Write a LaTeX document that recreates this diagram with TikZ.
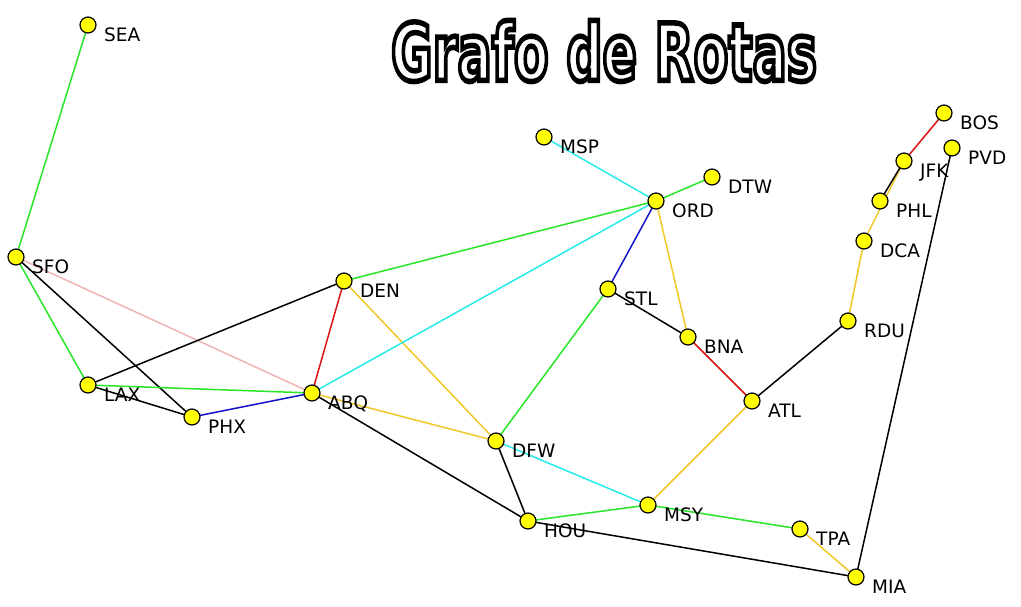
\documentclass[tikz,border=0pt]{standalone}
\usepackage{fontspec}
\setmainfont{DejaVu Sans}
\newfontfamily\ttlfont{DejaVu Sans}[BoldFeatures={FakeBold=7}]
\usepackage{graphicx}
\usetikzlibrary{backgrounds}

\definecolor{rtgreen}{RGB}{40,230,40}
\definecolor{rtcyan}{RGB}{40,235,235}
\definecolor{rtpink}{RGB}{240,180,180}
\definecolor{rtred}{RGB}{220,20,20}
\definecolor{rtblue}{RGB}{20,20,200}
\definecolor{rtgold}{RGB}{240,200,40}
\definecolor{aptyellow}{RGB}{255,255,0}

% white letters, black stroke from the fake bold
\newcommand{\ttltext}{\resizebox{426pt}{60pt}{\fontsize{75}{80}\selectfont\ttlfont\bfseries\color{white}\special{pdf:literal direct 0 0 0 RG}Grafo de Rotas}}

\tikzset{
  apt/.style={circle, draw=black, line width=1.2pt, fill=aptyellow, minimum size=16pt, inner sep=0pt},
  lbl/.style={anchor=base west, inner sep=0pt, font=\fontsize{18.5}{22}\selectfont},
  route/.style={line width=1.5pt},
}

\begin{document}
\begin{tikzpicture}[x=1pt,y=1pt,yscale=-1,xscale=1]
\useasboundingbox (0,0) rectangle (1021,606);

% Title
\node[inner sep=0pt] (ttl) at (604,51) {\ttltext};

% Airports
\node[apt] (SEA) at (88,25) {};
\node[apt] (SFO) at (16,257) {};
\node[apt] (LAX) at (88,385) {};
\node[apt] (PHX) at (192,417) {};
\node[apt] (ABQ) at (312,393) {};
\node[apt] (DEN) at (344,281) {};
\node[apt] (MSP) at (544,137) {};
\node[apt] (DTW) at (712,177) {};
\node[apt] (ORD) at (656,201) {};
\node[apt] (STL) at (608,289) {};
\node[apt] (BNA) at (688,337) {};
\node[apt] (DFW) at (496,441) {};
\node[apt] (HOU) at (528,521) {};
\node[apt] (MSY) at (648,505) {};
\node[apt] (ATL) at (752,401) {};
\node[apt] (TPA) at (800,529) {};
\node[apt] (MIA) at (856,577) {};
\node[apt] (RDU) at (848,321) {};
\node[apt] (DCA) at (864,241) {};
\node[apt] (PHL) at (880,201) {};
\node[apt] (JFK) at (904,161) {};
\node[apt] (BOS) at (944,113) {};
\node[apt] (PVD) at (952,148) {};

% Text Node
\node[lbl] (SEA-l) at ([shift={(16,16.5)}]SEA) {SEA};
\node[lbl] (SFO-l) at ([shift={(16,16.5)}]SFO) {SFO};
\node[lbl] (LAX-l) at ([shift={(16,16.5)}]LAX) {LAX};
\node[lbl] (PHX-l) at ([shift={(16,16.5)}]PHX) {PHX};
\node[lbl] (ABQ-l) at ([shift={(16,16.5)}]ABQ) {ABQ};
\node[lbl] (DEN-l) at ([shift={(16,16.5)}]DEN) {DEN};
\node[lbl] (MSP-l) at ([shift={(16,16.5)}]MSP) {MSP};
\node[lbl] (DTW-l) at ([shift={(16,16.5)}]DTW) {DTW};
\node[lbl] (ORD-l) at ([shift={(16,16.5)}]ORD) {ORD};
\node[lbl] (STL-l) at ([shift={(16,16.5)}]STL) {STL};
\node[lbl] (BNA-l) at ([shift={(16,16.5)}]BNA) {BNA};
\node[lbl] (DFW-l) at ([shift={(16,16.5)}]DFW) {DFW};
\node[lbl] (HOU-l) at ([shift={(16,16.5)}]HOU) {HOU};
\node[lbl] (MSY-l) at ([shift={(16,16.5)}]MSY) {MSY};
\node[lbl] (ATL-l) at ([shift={(16,16.5)}]ATL) {ATL};
\node[lbl] (TPA-l) at ([shift={(16,16.5)}]TPA) {TPA};
\node[lbl] (MIA-l) at ([shift={(16,16.5)}]MIA) {MIA};
\node[lbl] (RDU-l) at ([shift={(16,16.5)}]RDU) {RDU};
\node[lbl] (DCA-l) at ([shift={(16,16.5)}]DCA) {DCA};
\node[lbl] (PHL-l) at ([shift={(16,16.5)}]PHL) {PHL};
\node[lbl] (JFK-l) at ([shift={(16,16.5)}]JFK) {JFK};
\node[lbl] (BOS-l) at ([shift={(16,16.5)}]BOS) {BOS};
\node[lbl] (PVD-l) at ([shift={(16,16.5)}]PVD) {PVD};

% Routes
\begin{pgfonlayer}{background}
\fill[white] (0,0) rectangle (1021,606);
\draw[route, rtgreen] (SEA.center) -- (SFO.center);
\draw[route, rtgreen] (SFO.center) -- (LAX.center);
\draw[route] (SFO.center) -- (PHX.center);
\draw[route, rtpink] (SFO.center) -- (ABQ.center);
\draw[route] (LAX.center) -- (DEN.center);
\draw[route] (LAX.center) -- (PHX.center);
\draw[route, rtgreen] (LAX.center) -- (ABQ.center);
\draw[route, rtblue] (PHX.center) -- (ABQ.center);
\draw[route, rtred] (DEN.center) -- (ABQ.center);
\draw[route, rtgreen] (DEN.center) -- (ORD.center);
\draw[route, rtgold] (DEN.center) -- (DFW.center);
\draw[route, rtcyan] (ABQ.center) -- (ORD.center);
\draw[route, rtgold] (ABQ.center) -- (DFW.center);
\draw[route] (ABQ.center) -- (HOU.center);
\draw[route, rtcyan] (MSP.center) -- (ORD.center);
\draw[route, rtgreen] (ORD.center) -- (DTW.center);
\draw[route, rtblue] (ORD.center) -- (STL.center);
\draw[route, rtgold] (ORD.center) -- (BNA.center);
\draw[route] (STL.center) -- (BNA.center);
\draw[route, rtgreen] (STL.center) -- (DFW.center);
\draw[route, rtred] (BNA.center) -- (ATL.center);
\draw[route] (DFW.center) -- (HOU.center);
\draw[route, rtcyan] (DFW.center) -- (MSY.center);
\draw[route, rtgreen] (HOU.center) -- (MSY.center);
\draw[route] (HOU.center) -- (MIA.center);
\draw[route, rtgreen] (MSY.center) -- (TPA.center);
\draw[route, rtgold] (MSY.center) -- (ATL.center);
\draw[route] (ATL.center) -- (RDU.center);
\draw[route, rtgold] (TPA.center) -- (MIA.center);
\draw[route] (MIA.center) -- (PVD.center);
\draw[route, rtgold] (RDU.center) -- (DCA.center);
\draw[route, rtgold] (DCA.center) -- (JFK.center);
\draw[route] (PHL.center) -- (JFK.center);
\draw[route, rtred] (JFK.center) -- (BOS.center);
\end{pgfonlayer}

\end{tikzpicture}
\end{document}
